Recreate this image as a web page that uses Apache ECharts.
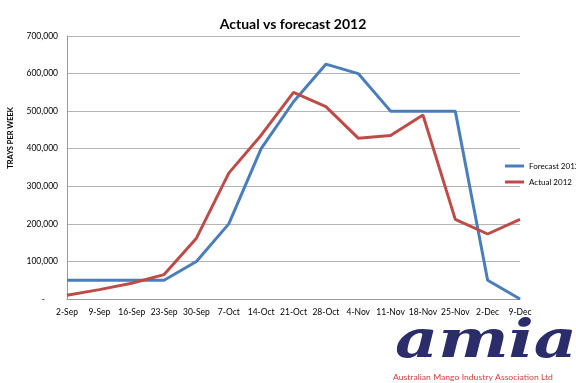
<!DOCTYPE html>
<html><head><meta charset="utf-8">
<script src="https://cdn.jsdelivr.net/npm/echarts@6/dist/echarts.min.js"></script>
<style>html,body{margin:0;padding:0;background:#fff}#c{width:576px;height:383px}</style>
</head><body><div id="c"></div>
<script>
const categories = ['2-Sep','9-Sep','16-Sep','23-Sep','30-Sep','7-Oct','14-Oct','21-Oct','28-Oct','4-Nov','11-Nov','18-Nov','25-Nov','2-Dec','9-Dec'];
const forecast2012 = [50000,50000,50000,50000,100000,200000,400000,525000,625000,600000,500000,500000,500000,50000,0];
const actual2012 = [10000,25000,42000,65000,162000,335000,436000,550000,512000,428000,435000,490000,212000,173000,212000];
const yTicks = {min:0, max:700000, interval:100000};

const chart = echarts.init(document.getElementById('c'));
const fam = 'Lato, "Open Sans", sans-serif';
chart.setOption({
  animation:false,
  title:{text:'Actual vs forecast 2012', left:288, textAlign:'center', top:12,
    textStyle:{fontFamily:fam, fontSize:14, fontWeight:'bold', color:'#000'}},
  grid:{left:67, right:56, top:36, bottom:84},
  legend:{orient:'vertical', left:505, top:162, padding:0, itemWidth:19, itemHeight:3, itemGap:8,
    icon:'rect', textStyle:{fontFamily:fam, fontSize:8, color:'#000'},
    data:['Forecast 2012','Actual 2012']},
  xAxis:{type:'category', data:categories, boundaryGap:false,
    axisLine:{lineStyle:{color:'#999', width:1}}, axisTick:{show:false},
    axisLabel:{fontFamily:fam, fontSize:8.5, color:'#000', margin:9, interval:0}},
  yAxis:{type:'value', min:yTicks.min, max:yTicks.max, interval:yTicks.interval,
    axisLine:{show:true, lineStyle:{color:'#999'}}, axisTick:{show:false},
    splitLine:{lineStyle:{color:'#b5b5b5', width:1}},
    axisLabel:{fontFamily:fam, fontSize:8.5, color:'#000', margin:9,
      formatter:v=> v===0 ? '-      ' : v.toLocaleString('en-US')}},
  series:[
    {name:'Forecast 2012', type:'line', data:forecast2012, symbol:'none',
      lineStyle:{color:'#4A7EBB', width:3}, itemStyle:{color:'#4A7EBB'}},
    {name:'Actual 2012', type:'line', data:actual2012, symbol:'none',
      lineStyle:{color:'#BE4B48', width:3}, itemStyle:{color:'#BE4B48'}}
  ],
  graphic:[
    {type:'text', left:7, top:107, rotation:Math.PI/2,
      style:{text:'TRAYS PER WEEK', font:'bold 7.5px '+fam, fill:'#000'}},
    {type:'text', x:395, y:369, scaleX:1.28,
      style:{text:'amia', font:'italic bold 52px "DejaVu Serif", serif', fill:'#2b2d6b', verticalAlign:'bottom'}},
    {type:'text', x:393, y:374, scaleX:1.15,
      style:{text:'Australian Mango Industry Association Ltd', font:'7.5px '+fam, fill:'#d04040'}}
  ]
});
</script></body></html>
